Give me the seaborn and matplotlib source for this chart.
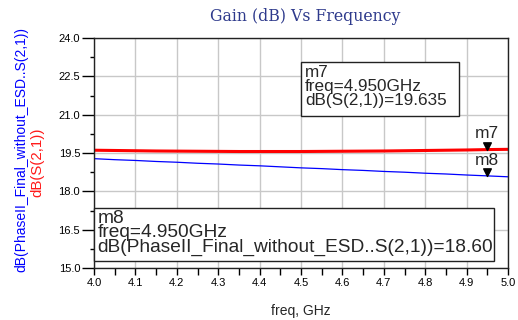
import numpy as np
import pandas as pd
import seaborn as sns
import matplotlib
matplotlib.use("Agg")
import matplotlib.pyplot as plt
from matplotlib.patches import Rectangle
from matplotlib.path import Path
from matplotlib.transforms import Bbox, TransformedBbox
from matplotlib.ticker import MultipleLocator

# data
freq = [4.00, 4.05, 4.10, 4.15, 4.20, 4.25, 4.30, 4.35, 4.40, 4.45, 4.50,
        4.55, 4.60, 4.65, 4.70, 4.75, 4.80, 4.85, 4.90, 4.95, 5.00]
gain_s21 = [19.61, 19.60, 19.59, 19.58, 19.575, 19.57, 19.565, 19.56, 19.56, 19.56, 19.56,
            19.565, 19.57, 19.575, 19.58, 19.59, 19.60, 19.61, 19.62, 19.635, 19.645]
gain_noesd = [19.28, 19.24, 19.21, 19.17, 19.14, 19.10, 19.07, 19.03, 19.00, 18.96, 18.92,
              18.89, 18.85, 18.82, 18.78, 18.75, 18.71, 18.68, 18.64, 18.606, 18.57]
marker_freq = 4.95
m7_val = 19.635
m8_val = 18.606

df = pd.DataFrame({"freq": freq, "s21": gain_s21, "noesd": gain_noesd})

sns.set_style("white")
plt.rcParams["font.family"] = ["Liberation Sans", "DejaVu Sans"]

fig = plt.figure(figsize=(5.18, 3.2), dpi=100)
ax = fig.add_axes([0.1815, 0.1625, 0.7992, 0.7185])

sns.lineplot(data=df, x="freq", y="noesd", color="#0000ff", linewidth=0.9, ax=ax)
sns.lineplot(data=df, x="freq", y="s21", color="#ff0000", linewidth=2.2, ax=ax)

ax.set_xlim(4.0, 5.0)
ax.set_ylim(15.0, 24.0)
ax.xaxis.set_major_locator(MultipleLocator(0.1))
ax.xaxis.set_minor_locator(MultipleLocator(0.05))
ax.yaxis.set_major_locator(MultipleLocator(1.5))
ax.yaxis.set_minor_locator(MultipleLocator(0.75))
ax.set_xticklabels([f"{v:.1f}" for v in ax.get_xticks()])
ax.set_yticklabels([f"{v:.1f}" for v in ax.get_yticks()])
ax.grid(True, which="major", color="#c8c8c8", linewidth=1.0)
ax.set_axisbelow(True)
ax.tick_params(axis="both", which="both", direction="out", labelsize=8,
               colors="black", bottom=True, left=True)
ax.tick_params(axis="y", which="major", length=9, width=1, pad=1)
ax.tick_params(axis="y", which="minor", length=3, width=1)
ax.tick_params(axis="x", which="both", length=5, width=1)
ax.tick_params(axis="x", which="major", pad=2)
for s in ax.spines.values():
    s.set_color("#222222")
    s.set_linewidth(1.0)

ax.set_xlabel("freq, GHz", fontsize=10, labelpad=12)
ax.set_ylabel("")

fig.text(0.041, 0.534, "dB(PhaseII_Final_without_ESD..S(2,1))", rotation=90,
         color="#0000ff", fontsize=10, ha="center", va="center")
fig.text(0.072, 0.494, "dB(S(2,1))", rotation=90, color="#ff1a1a",
         fontsize=10.8, ha="center", va="center")
fig.text(0.589, 0.947, "Gain (dB) Vs Frequency", color="#2e3a8c",
         fontsize=11.3, family="DejaVu Serif", ha="center", va="center")

# markers: downward triangle with its tip on the trace
tip_down = Path([(-0.5, 1.0), (0.5, 1.0), (0.0, 0.0), (-0.5, 1.0)],
                [Path.MOVETO, Path.LINETO, Path.LINETO, Path.CLOSEPOLY])
for val, name in [(m7_val, "m7"), (m8_val, "m8")]:
    ax.plot([marker_freq], [val], marker=tip_down, color="black", markersize=11,
            linestyle="none", zorder=4)
    ax.annotate(name, (marker_freq, val), xytext=(0, 6), textcoords="offset points",
                ha="center", va="bottom", fontsize=12.5)

# marker readout boxes
box7 = Rectangle((0.5, 0.661), 0.382, 0.235, transform=ax.transAxes,
                 facecolor="white", edgecolor="#222222", linewidth=1.0, zorder=5)
ax.add_patch(box7)
ax.text(0.51, 0.885, "m7\nfreq=4.950GHz\ndB(S(2,1))=19.635", transform=ax.transAxes,
        ha="left", va="top", fontsize=12.3, linespacing=0.92, zorder=6)

box8 = Rectangle((0.0, 0.03), 0.966, 0.231, transform=ax.transAxes,
                 facecolor="white", edgecolor="#222222", linewidth=1.0, zorder=5,
                 clip_on=False)
ax.add_patch(box8)
t8 = ax.text(0.008, 0.253, "m8\nfreq=4.950GHz\ndB(PhaseII_Final_without_ESD..S(2,1))=18.606",
             transform=ax.transAxes, ha="left", va="top", fontsize=13.8,
             linespacing=0.81, zorder=6)
t8.set_clip_on(True)
t8.set_clip_box(TransformedBbox(Bbox([[0.0, 0.03], [0.964, 0.261]]), ax.transAxes))

fig.savefig("out.png", dpi=100)
